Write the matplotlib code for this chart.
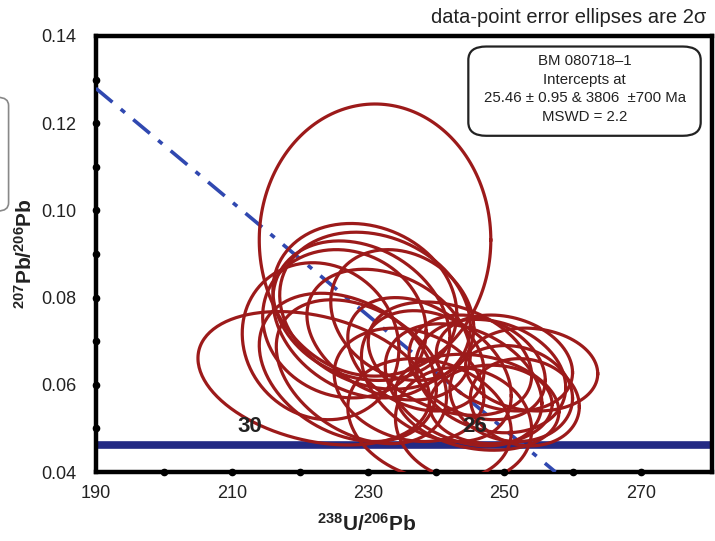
import numpy as np
import matplotlib.pyplot as plt
from matplotlib.patches import FancyBboxPatch

plt.rcParams['font.family'] = ['Liberation Sans', 'DejaVu Sans']
plt.rcParams['mathtext.fontset'] = 'custom'
plt.rcParams['mathtext.rm'] = 'Liberation Sans'
plt.rcParams['mathtext.bf'] = 'Liberation Sans:bold'

# Tera-Wasserburg plot, sample BM 080718-1

# error ellipses: centre (238U/206Pb, 207Pb/206Pb), 2s half-widths, correlation
ell_x = [231.0, 229.5, 231.0, 229.0, 226.5, 235.0, 223.0, 233.0, 222.0,
         227.0, 229.0, 236.0, 240.0, 239.0, 244.0, 254.0, 250.0, 248.0,
         246.0, 251.0, 248.0, 244.0, 242.0, 253.0, 246.0, 237.0]
ell_y = [0.0932, 0.0790, 0.0770, 0.0750, 0.0740, 0.0760, 0.0700, 0.0715, 0.0615,
         0.0640, 0.0630, 0.0600, 0.0620, 0.0520, 0.0510, 0.0635, 0.0650, 0.0620,
         0.0640, 0.0580, 0.0555, 0.0600, 0.0660, 0.0560, 0.0560, 0.0670]
ell_sx = [17.0, 13.5, 14.0, 13.0, 12.0, 10.5, 11.5, 12.0, 17.0,
          13.0, 12.5, 11.0, 11.0, 12.0, 10.0, 9.7, 10.0, 11.0,
          10.0, 9.0, 9.0, 11.5, 12.0, 8.0, 12.0, 10.0]
ell_sy = [0.0312, 0.0180, 0.0180, 0.0180, 0.0170, 0.0150, 0.0180, 0.0150, 0.0153,
          0.0170, 0.0165, 0.0130, 0.0150, 0.0140, 0.0130, 0.0095, 0.0110, 0.0130,
          0.0120, 0.0110, 0.0090, 0.0140, 0.0130, 0.0100, 0.0110, 0.0130]
ell_rho = [0.0, -0.15, -0.2, -0.25, -0.1, -0.2, -0.1, -0.3, -0.3,
           -0.3, -0.35, -0.2, -0.3, -0.2, -0.1, -0.1, -0.2, -0.2,
           -0.25, -0.1, 0.0, -0.3, -0.3, -0.1, -0.2, -0.3]

# concordia (nearly flat here) and age labels
conc_x = [190.0, 280.5]
conc_y = [0.0461, 0.0461]
age_lab = ['30', '26']
age_x = [214.4, 247.5]

# discordia through the intercepts
disc_x = [190.0, 257.5]
disc_y = [0.128, 0.040]

fig = plt.figure(figsize=(7.15, 5.41), dpi=100)
ax = fig.add_axes([0.134, 0.1275, 0.862, 0.806])

ax.plot(conc_x, conc_y, color='#232a84', lw=5.5, solid_capstyle='butt', zorder=2)
ax.plot(disc_x, disc_y, color='#3048b0', lw=2.6, ls=(0, (6, 3, 1.5, 3)), zorder=3)

t = np.linspace(0, 2 * np.pi, 200)
for cx, cy, sx, sy, r in zip(ell_x, ell_y, ell_sx, ell_sy, ell_rho):
    ex = cx + sx * np.cos(t)
    ey = cy + sy * (r * np.cos(t) + np.sqrt(1 - r ** 2) * np.sin(t))
    ax.plot(ex, ey, color='#9c1a1a', lw=2.3, zorder=4)

for lab, xa in zip(age_lab, age_x):
    ax.text(xa, 0.0480, lab, ha='right', va='bottom', fontsize=16,
            fontweight='bold', color='#222222', zorder=5)

ax.set_xlim(190, 280.5)
ax.set_ylim(0.04, 0.14)
ax.set_xticks([190, 210, 230, 250, 270])
ax.set_yticks([0.04, 0.06, 0.08, 0.10, 0.12, 0.14])
ax.set_yticklabels(['0.04', '0.06', '0.08', '0.10', '0.12', '0.14'])
ax.tick_params(length=0, labelsize=13, colors='#222222', pad=14)
ax.tick_params(axis='x', pad=9)

for s in ax.spines.values():
    s.set_linewidth(3.2)
    s.set_color('black')

# dot ticks sitting on the left and bottom spines
xd = np.arange(200, 280, 10)
yd = np.arange(0.05, 0.135, 0.01)
ax.plot(xd, np.full(len(xd), 0.04), 'o', color='black', ms=4.5, clip_on=False, zorder=6)
ax.plot(np.full(len(yd), 190), yd, 'o', color='black', ms=4.5, clip_on=False, zorder=6)

ax.set_xlabel(r'$\mathbf{^{238}U/^{206}Pb}$', fontsize=15, color='#222222')
ax.set_ylabel(r'$\mathbf{^{207}Pb/^{206}Pb}$', fontsize=15, color='#222222')
ax.xaxis.set_label_coords(0.44, -0.094)
ax.yaxis.set_label_coords(-0.098, 0.5)

fig.text(0.988, 0.968, 'data-point error ellipses are 2σ', ha='right', va='center',
         fontsize=14.5, color='#222222')

box = FancyBboxPatch((0.655, 0.749), 0.325, 0.165, transform=fig.transFigure,
                     boxstyle='round,pad=0,rounding_size=0.025', fc='white',
                     ec='#222222', lw=1.6, zorder=7)
fig.patches.append(box)
info = ['BM 080718\u20131', 'Intercepts at', '25.46 \u00b1 0.95 & 3806  \u00b1700 Ma', 'MSWD = 2.2']
for i, line in enumerate(info):
    fig.text(0.818, 0.888 - i * 0.035, line, ha='center', va='center',
             fontsize=10.8, color='#222222', zorder=8)

# edge of a neighbouring panel box
side = FancyBboxPatch((-0.05, 0.61), 0.062, 0.21, transform=fig.transFigure,
                      boxstyle='round,pad=0,rounding_size=0.015', fc='none',
                      ec='#888888', lw=1.2)
fig.patches.append(side)

fig.savefig('out.png', dpi=100)
